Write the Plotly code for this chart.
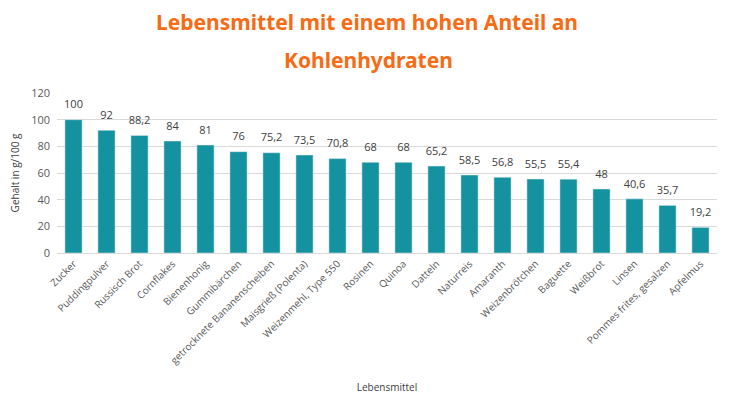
import plotly.graph_objects as go

categories = ["Zucker", "Puddingpulver", "Russisch Brot", "Cornflakes", "Bienenhonig",
              "Gummibärchen", "getrocknete Bananenscheiben", "Maisgrieß (Polenta)",
              "Weizenmehl, Type 550", "Rosinen", "Quinoa", "Datteln", "Naturreis",
              "Amaranth", "Weizenbrötchen", "Baguette", "Weißbrot", "Linsen",
              "Pommes frites, gesalzen", "Apfelmus"]
values = [100, 92, 88.2, 84, 81, 76, 75.2, 73.5, 70.8, 68, 68, 65.2, 58.5, 56.8,
          55.5, 55.4, 48, 40.6, 35.7, 19.2]
labels = [f"{v:g}".replace(".", ",") for v in values]
title_line1 = "Lebensmittel mit einem hohen Anteil an"
title_line2 = "Kohlenhydraten"

fig = go.Figure()
fig.add_trace(go.Bar(x=categories, y=values, marker=dict(color="#1592A0"),
                     hoverinfo="x+y"))
fig.add_trace(go.Scatter(x=categories, y=values, mode="markers+text", text=labels,
                         textposition="top center", cliponaxis=False,
                         marker=dict(size=12, color="rgba(0,0,0,0)"),
                         textfont=dict(size=11, color="#404040", family="Open Sans"),
                         hoverinfo="skip"))

# page body has an 8px margin, so the figure is drawn 8px smaller and shifted
OFF = 8
W, H = 729 - OFF, 398 - OFF
L, R, T, B = 57 - OFF, 12, 93 - OFF, 145
plot_w = W - L - R
plot_h = H - T - B

fig.update_layout(
    width=W, height=H,
    margin=dict(l=L, r=R, t=T, b=B, autoexpand=False),
    paper_bgcolor="white", plot_bgcolor="white",
    bargap=0.48,
    showlegend=False,
    font=dict(family="Open Sans", color="#595959", size=10),
    xaxis=dict(tickangle=-45, tickfont=dict(size=10, color="#595959"), automargin=False,
               range=[-0.5, len(categories) - 0.5],
               title=dict(text="Lebensmittel", font=dict(size=10, color="#404040"), standoff=18),
               showline=True, linecolor="#D9D9D9", ticks=""),
    yaxis=dict(range=[0, 120], dtick=20, gridcolor="#D9D9D9", zeroline=False, automargin=False,
               tickfont=dict(size=11, color="#595959"),
               title=dict(text="Gehalt in g/100 g", font=dict(size=10, color="#404040"), standoff=14),
               ticks="", ticklabelstandoff=6),
    annotations=[
        dict(text=title_line1, x=(367 - OFF - L) / plot_w, y=1 + (T - (22 - OFF)) / plot_h,
             xref="paper", yref="paper", showarrow=False,
             font=dict(family="Noto Sans", size=21, color="#F76B15", weight="bold"),
             yanchor="middle", xanchor="center"),
        dict(text=title_line2, x=(368 - OFF - L) / plot_w, y=1 + (T - (60 - OFF)) / plot_h,
             xref="paper", yref="paper", showarrow=False,
             font=dict(family="Noto Sans", size=21, color="#F76B15", weight="bold"),
             yanchor="middle", xanchor="center"),
    ],
)

fig.write_html("out.html")
